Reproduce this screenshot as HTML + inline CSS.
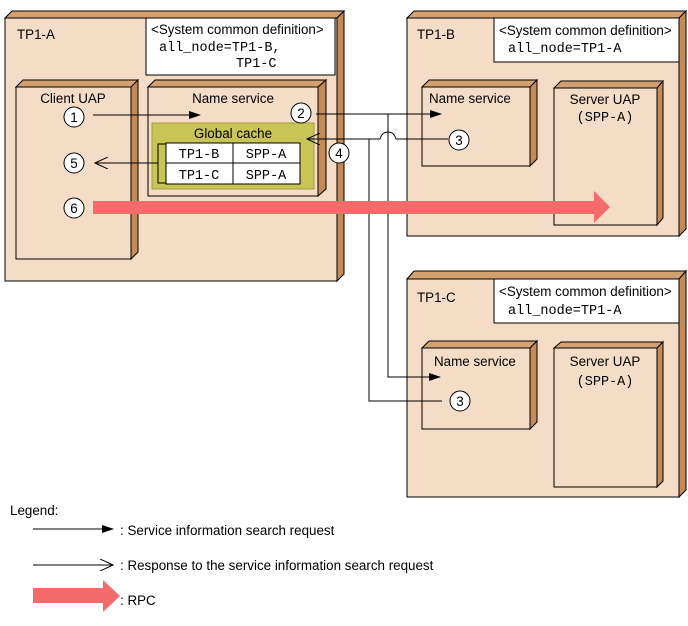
<!DOCTYPE html>
<html><head><style>body{margin:0;background:#fff}svg{display:block}text{font-family:"Liberation Sans",sans-serif;font-size:13.4px;fill:#000}.m{font-family:"Liberation Mono",monospace;font-size:13.5px}</style></head><body>
<svg width="688" height="626" xmlns="http://www.w3.org/2000/svg">
<defs>
<marker id="f" markerWidth="12" markerHeight="8" refX="11" refY="4" orient="auto" markerUnits="userSpaceOnUse"><path d="M0,0 L12,4 L0,8 z" fill="#000"/></marker>
<marker id="o" markerWidth="14" markerHeight="12" refX="13" refY="6" orient="auto" markerUnits="userSpaceOnUse"><path d="M0,0 L13,6 L0,12" fill="none" stroke="#000"/></marker>
</defs>
<g stroke="#000" stroke-width="1">
<path d="M5,18 L12,11 L344,11 L337,18 z" fill="#d4a070"/>
<path d="M337,18 L344,11 L344,274 L337,281 z" fill="#c48a58"/>
<rect x="5" y="18" width="332" height="263" fill="#f4dcc6"/>
<rect x="146" y="18" width="189" height="57" fill="#fff"/>
<path d="M16,87 L23,80 L138,80 L131,87 z" fill="#d4a070"/>
<path d="M131,87 L138,80 L138,252 L131,259 z" fill="#c48a58"/>
<rect x="16" y="87" width="115" height="172" fill="#f4dcc6"/>
<path d="M148,87 L155,80 L326,80 L318,87 z" fill="#d4a070"/>
<path d="M318,87 L326,80 L326,189 L318,196 z" fill="#c48a58"/>
<rect x="148" y="87" width="170" height="109" fill="#f4dcc6"/>
<rect x="152" y="123" width="162" height="66" fill="#c8c455" stroke="#a0a040"/>
<rect x="166" y="143" width="134" height="41" fill="#fff"/>
<line x1="233" y1="143" x2="233" y2="184"/><line x1="166" y1="163" x2="300" y2="163"/>
<path d="M166,144 L158,144 L158,183 L166,183" fill="none"/>
<path d="M407,18 L414,11 L686,11 L679,18 z" fill="#d4a070"/>
<path d="M679,18 L686,11 L686,229 L679,236 z" fill="#c48a58"/>
<rect x="407" y="18" width="272" height="218" fill="#f4dcc6"/>
<rect x="494" y="18" width="185" height="44" fill="#fff"/>
<path d="M422,87 L429,80 L537,80 L530,87 z" fill="#d4a070"/>
<path d="M530,87 L537,80 L537,159 L530,166 z" fill="#c48a58"/>
<rect x="422" y="87" width="108" height="79" fill="#f4dcc6"/>
<path d="M554,88 L561,81 L663,81 L657,88 z" fill="#d4a070"/>
<path d="M657,88 L663,81 L663,218 L657,225 z" fill="#c48a58"/>
<rect x="554" y="88" width="103" height="137" fill="#f4dcc6"/>
<path d="M407,279 L414,271 L686,271 L679,279 z" fill="#d4a070"/>
<path d="M679,279 L686,271 L686,490 L679,497 z" fill="#c48a58"/>
<rect x="407" y="279" width="272" height="218" fill="#f4dcc6"/>
<rect x="494" y="279" width="185" height="44" fill="#fff"/>
<path d="M422,348 L429,341 L537,341 L530,348 z" fill="#d4a070"/>
<path d="M530,348 L537,341 L537,422 L530,429 z" fill="#c48a58"/>
<rect x="422" y="348" width="108" height="81" fill="#f4dcc6"/>
<path d="M554,348 L561,342 L663,342 L657,348 z" fill="#d4a070"/>
<path d="M657,348 L663,342 L663,481 L657,487 z" fill="#c48a58"/>
<rect x="554" y="348" width="103" height="139" fill="#f4dcc6"/>
<line x1="93" y1="115" x2="200" y2="115" marker-end="url(#f)"/>
<line x1="158" y1="163" x2="95" y2="163" marker-end="url(#o)"/>
<line x1="316" y1="114" x2="441" y2="114" marker-end="url(#f)"/>
<path d="M448,139 L396,139 Q394,132 388,132 Q382,132 380,139 L307,139" fill="none" marker-end="url(#o)"/>
<path d="M388,114 L388,377 L440,377" fill="none" marker-end="url(#f)"/>
<path d="M369,139 L369,401 L442,401" fill="none"/>
</g>
<path d="M93,201 L594,201 L594,191 L610,207 L594,223 L594,214 L93,214 z" fill="#f56b6b"/>
<g stroke="#000" fill="#fff">
<circle cx="74" cy="117" r="10"/><circle cx="301" cy="113" r="10"/><circle cx="74" cy="163" r="10"/><circle cx="74" cy="208" r="10"/><circle cx="339" cy="153" r="10"/><circle cx="459" cy="140" r="10"/><circle cx="460" cy="401" r="10"/>
</g>
<g text-anchor="middle">
<text x="74" y="122">1</text><text x="301" y="118">2</text><text x="74" y="168">5</text><text x="74" y="213">6</text><text x="339" y="158">4</text><text x="459" y="145">3</text><text x="460" y="406">3</text>
<text x="73" y="103">Client UAP</text><text x="233" y="103">Name service</text><text x="233" y="138">Global cache</text>
<text class="m" x="199" y="158">TP1-B</text><text class="m" x="266" y="158">SPP-A</text><text class="m" x="199" y="179">TP1-C</text><text class="m" x="266" y="179">SPP-A</text>
<text x="605" y="104">Server UAP</text><text class="m" x="605" y="121">(SPP-A)</text>
<text x="605" y="366">Server UAP</text><text class="m" x="605" y="385">(SPP-A)</text>
</g>
<text x="17" y="39">TP1-A</text>
<text x="151" y="34">&lt;System common definition&gt;</text>
<text class="m" x="159" y="51">all_node=TP1-B,</text>
<text class="m" x="236" y="67">TP1-C</text>
<text x="417" y="39">TP1-B</text>
<text x="499" y="35">&lt;System common definition&gt;</text>
<text class="m" x="508" y="52">all_node=TP1-A</text>
<text x="429" y="103">Name service</text>
<text x="417" y="302">TP1-C</text>
<text x="499" y="296">&lt;System common definition&gt;</text>
<text class="m" x="508" y="314">all_node=TP1-A</text>
<text x="434" y="366">Name service</text>
<text x="10" y="515">Legend:</text>
<line x1="33" y1="529" x2="113" y2="529" stroke="#000" marker-end="url(#f)"/>
<text x="120" y="535">: Service information search request</text>
<line x1="33" y1="565" x2="113" y2="565" stroke="#000" marker-end="url(#o)"/>
<text x="120" y="570">: Response to the service information search request</text>
<path d="M33,588 L103,588 L103,580 L120,596 L103,612 L103,603 L33,603 z" fill="#f56b6b"/>
<text x="120" y="605">: RPC</text>
</svg>
</body></html>
